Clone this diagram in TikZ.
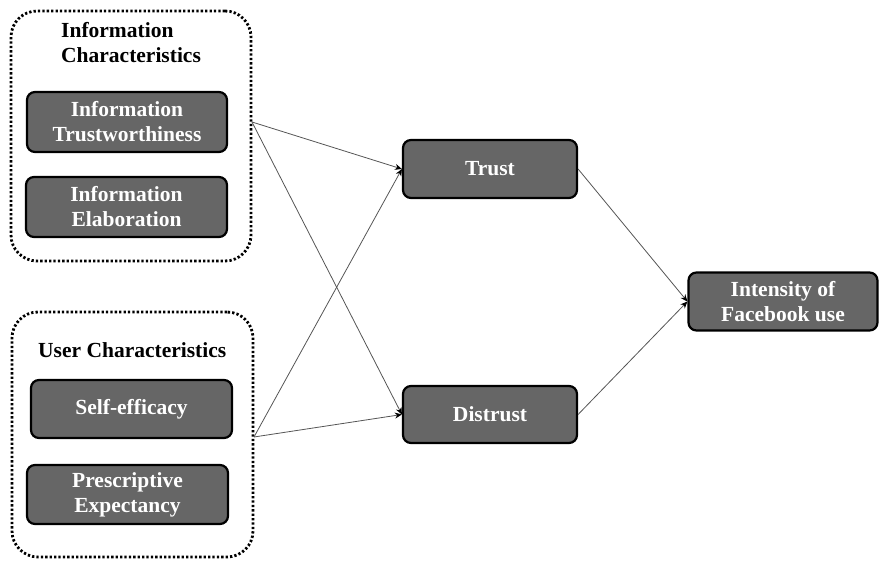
\documentclass[tikz,border=0pt]{standalone}
\usepackage{fontspec}
\setmainfont{Liberation Serif}
\usetikzlibrary{arrows.meta}
\definecolor{boxgray}{HTML}{666666}
\definecolor{linegray}{HTML}{555555}
\begin{document}
\begin{tikzpicture}[x=1pt,y=-1pt,
  inner/.style={draw=black, line width=2.2pt, fill=boxgray, rounded corners=8pt,
    text=white, font=\fontsize{21.5}{25}\selectfont\bfseries, align=center, inner sep=0pt},
  group/.style={draw=black, line width=2.8pt, dash pattern=on 2.3pt off 2.1pt,
    rounded corners=26pt, inner sep=0pt},
  title/.style={font=\fontsize{21.5}{25}\selectfont\bfseries, align=left, anchor=base west, inner sep=0pt},
  link/.style={draw=linegray, line width=0.8pt, -{Stealth[length=7pt,width=6pt,color=black]}}
]
\useasboundingbox (0,0) rectangle (879,564);
% group frames
\node[group, minimum width=240pt, minimum height=250pt] (g1) at (131,136) {};
\node[group, minimum width=241pt, minimum height=245pt] (g2) at (132.5,434.5) {};
% titles
\node[title] (t1) at (61,63) {Information\\Characteristics};
\node[title] (t2) at (38,358) {User Characteristics};
% inner boxes
\node[inner, minimum width=200pt, minimum height=60pt] (it) at (127,122) {Information\\Trustworthiness};
\node[inner, minimum width=201pt, minimum height=60pt] (ie) at (126.5,207) {Information\\Elaboration};
\node[inner, minimum width=201pt, minimum height=58pt] (se) at (131.5,409) {Self-efficacy};
\node[inner, minimum width=201pt, minimum height=59pt] (pe) at (127.5,494.5) {Prescriptive\\Expectancy};
\node[inner, minimum width=174pt, minimum height=58pt] (trust) at (490,169) {Trust};
\node[inner, minimum width=174pt, minimum height=57pt] (distrust) at (490,414.5) {Distrust};
\node[inner, minimum width=189pt, minimum height=58pt] (ifu) at (783,301.5) {Intensity of\\Facebook use};
% connector start points on the frames
\coordinate (s1) at (252,122);
\coordinate (s2) at (254,437);
\draw[link] (s1) -- (trust.west);
\draw[link] (s1) -- (distrust.west);
\draw[link] (s2) -- (trust.west);
\draw[link] (s2) -- (distrust.west);
\draw[link] (trust.east) -- (ifu.west);
\draw[link] (distrust.east) -- (ifu.west);
\end{tikzpicture}
\end{document}
